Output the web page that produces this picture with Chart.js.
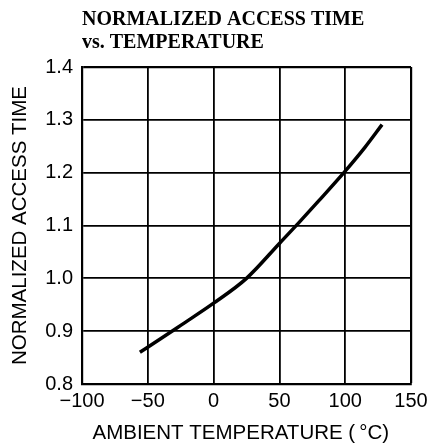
<!DOCTYPE html>
<html>
<head>
<meta charset="utf-8">
<script src="https://cdn.jsdelivr.net/npm/chart.js@4.4.1/dist/chart.umd.min.js"></script>
<style>
  html, body { margin: 0; padding: 0; background: #fff; }
  #wrap { width: 428px; height: 447px; }
</style>
</head>
<body>
<div id="wrap"><canvas id="accessChart"></canvas></div>
<script>
// Curve
const temperatures = [-56, -40, -25, 0, 25, 50, 65, 80, 100, 115, 128];
const accessTimes = [0.860, 0.886, 0.911, 0.953, 1.0, 1.066, 1.106, 1.147, 1.203, 1.248, 1.291];

const xTicks = [-100, -50, 0, 50, 100, 150];
const yTicks = [0.8, 0.9, 1.0, 1.1, 1.2, 1.3, 1.4];

const points = temperatures.map((t, i) => ({ x: t, y: accessTimes[i] }));

const ctx = document.getElementById('accessChart').getContext('2d');

new Chart(ctx, {
    type: 'line',
    data: {
        datasets: [{
            data: points,
            borderColor: '#000',
            borderWidth: 3.5,
            pointRadius: 0,
            fill: false,
            cubicInterpolationMode: 'monotone'
        }]
    },
    options: {
        responsive: true,
        maintainAspectRatio: false,
        animation: false,
        layout: { padding: { left: 0, right: 0, top: 0, bottom: 0 } },
        plugins: {
            legend: { display: false },
            tooltip: { enabled: false },
            title: {
                display: true,
                text: ['NORMALIZED ACCESS TIME', 'vs. TEMPERATURE'],
                align: 'start',
                fullSize: false,
                color: '#000',
                font: { family: '"Liberation Serif", "Times New Roman", serif', size: 20, weight: 'bold', lineHeight: '23px' },
                padding: { top: 8.5, bottom: 12.5 }
            }
        },
        scales: {
            x: {
                type: 'linear',
                min: -100,
                max: 150,
                afterBuildTicks: scale => { scale.ticks = xTicks.map(v => ({ value: v })); },
                afterFit: scale => {
                    scale.height = 63;
                    scale.paddingRight = 17;
                },
                ticks: {
                    color: '#000',
                    padding: 5,
                    maxRotation: 0,
                    font: { family: '"Liberation Sans", Arial, sans-serif', size: 20 },
                    callback: v => String(v).replace('-', '\u2212')
                },
                grid: {
                    color: '#000',
                    lineWidth: c => (c.index === xTicks.length - 1 ? 2.2 : 1.8),
                    drawTicks: false
                },
                border: { color: '#000', width: 2.2 },
                title: {
                    display: true,
                    text: 'AMBIENT TEMPERATURE (\u2009\u00b0C)\u00a0\u00a0',
                    color: '#000',
                    font: { family: '"Liberation Sans", Arial, sans-serif', size: 20.5 },
                    padding: { top: 0, bottom: 1 }
                }
            },
            y: {
                type: 'linear',
                min: 0.8,
                max: 1.4,
                afterBuildTicks: scale => { scale.ticks = yTicks.map(v => ({ value: v })); },
                afterFit: scale => { scale.width = 82; },
                ticks: {
                    color: '#000',
                    padding: 9,
                    font: { family: '"Liberation Sans", Arial, sans-serif', size: 20 },
                    callback: v => Number(v).toFixed(1)
                },
                grid: {
                    color: '#000',
                    lineWidth: c => (c.index === yTicks.length - 1 ? 2.2 : 1.8),
                    drawTicks: false
                },
                border: { color: '#000', width: 2.2 },
                title: {
                    display: true,
                    text: 'NORMALIZED ACCESS TIME',
                    color: '#000',
                    font: { family: '"Liberation Sans", Arial, sans-serif', size: 20.5 },
                    padding: { top: 8, bottom: 0 }
                }
            }
        }
    }
});
</script>
</body>
</html>
